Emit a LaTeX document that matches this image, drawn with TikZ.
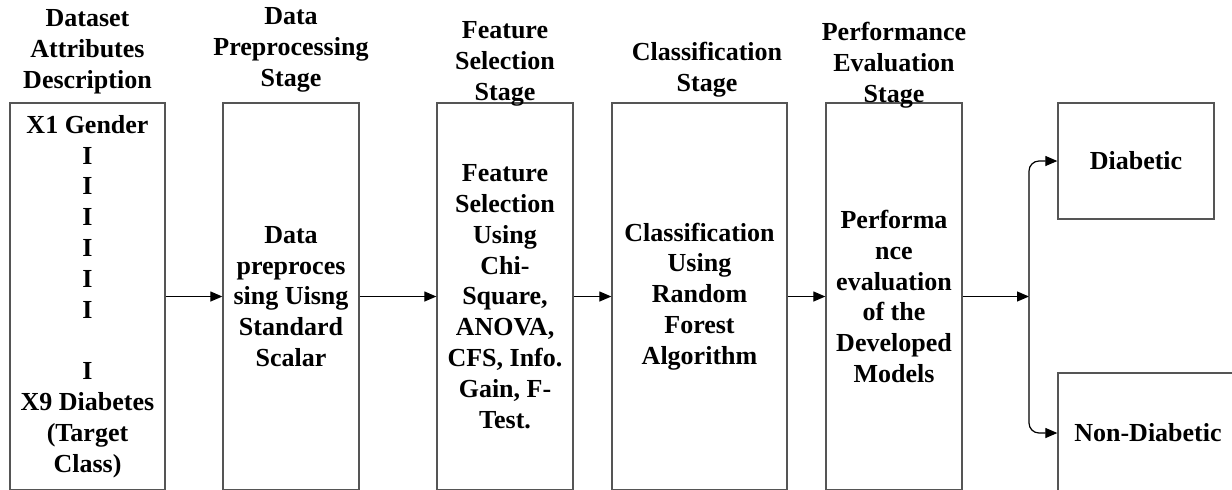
\documentclass[tikz,border=0pt]{standalone}
\usepackage{fontspec}
\setmainfont{Liberation Serif}
\usetikzlibrary{arrows.meta}
\definecolor{boxgray}{HTML}{555555}
\begin{document}
\begin{tikzpicture}[x=0.5pt,y=-0.5pt,
  every node/.style={font=\fontsize{13}{15.4}\selectfont\bfseries, align=center, inner sep=0pt},
  box/.style={draw=boxgray, line width=0.65pt},
  head/.style={anchor=north},
  arr/.style={draw=black, line width=0.6pt, -{Triangle[length=6pt,width=5pt]}}]
\useasboundingbox (0,0) rectangle (1232,489);
\clip (0,0) rectangle (1232,489);
% boxes
\node[box, minimum width=77.5pt, minimum height=193.5pt] (b1) at (87.5,296.5)
  {X1 Gender\\I\\I\\I\\I\\I\\I\\ \\I\\X9 Diabetes\\(Target\\Class)};
\node[box, minimum width=68pt, minimum height=193.5pt] (b2) at (291,296.5)
  {Data\\preproces\\sing Uisng\\Standard\\Scalar};
\node[box, minimum width=68pt, minimum height=193.5pt] (b3) at (505,296.5)
  {Feature\\Selection\\Using\\Chi-\\Square,\\ANOVA,\\CFS, Info.\\Gain, F-\\Test.};
\node[box, minimum width=87.5pt, minimum height=193.5pt] (b4) at (699.5,296.5)
  {Classification\\Using\\Random\\Forest\\Algorithm};
\node[box, minimum width=68pt, minimum height=193.5pt] (b5) at (894,296.5)
  {Performa\\nce\\evaluation\\of the\\Developed\\Models};
\node[box, minimum width=78pt, minimum height=58pt] (diab) at (1136,161) {Diabetic};
\node[box, minimum width=90pt, minimum height=60pt] (nondiab) at (1148,433) {Non-Diabetic};
% headings
\node[head] (h1) at (87.5,9) {Dataset\\Attributes\\Description};
\node[head] (h2) at (291,7) {Data\\Preprocessing\\Stage};
\node[head] (h3) at (505,21) {Feature\\Selection\\Stage};
\node[head] (h4) at (707,42) {Classification\\Stage};
\node[head] (h5) at (894,22) {Performance\\Evaluation\\Stage};
% connectors
\coordinate (j) at (1029,296.5);
\draw[arr] (b1) -- (b2);
\draw[arr] (b2) -- (b3);
\draw[arr] (b3) -- (b4);
\draw[arr] (b4) -- (b5);
\draw[arr] (b5) -- (j);
\draw[arr, rounded corners=5pt] (j) |- (diab);
\draw[arr, rounded corners=5pt] (j) |- (nondiab);
\end{tikzpicture}
\end{document}
